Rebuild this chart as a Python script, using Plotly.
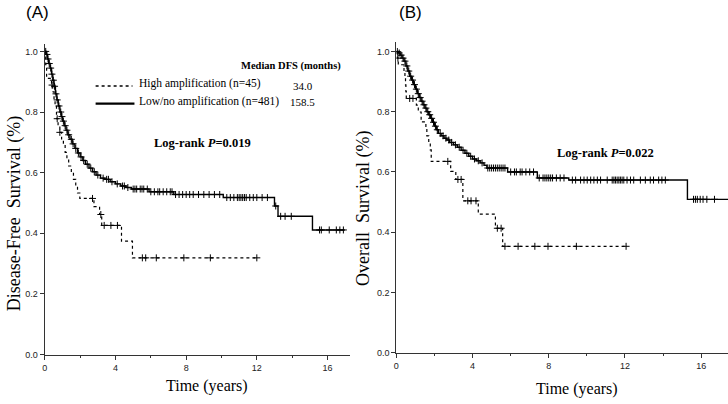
import plotly.graph_objects as go

# ---------------- Data ----------------
# Panel A: Disease-free survival (years, survival after event)
dfs_high_t = [0.05, 0.1, 0.38, 0.45, 0.52, 0.58, 0.66, 0.75, 0.85, 0.95, 1.05, 1.15, 1.25, 1.35,
              1.5, 1.62, 1.75, 1.85, 1.98, 2.78, 3.1, 3.22, 4.34, 4.96]
dfs_high_s = [0.956, 0.911, 0.889, 0.867, 0.844, 0.822, 0.778, 0.756, 0.733, 0.711, 0.689, 0.667,
              0.644, 0.622, 0.600, 0.578, 0.556, 0.533, 0.515, 0.488, 0.462, 0.426, 0.374, 0.319]
dfs_high_cens = [0.41, 0.7, 0.85, 2.70, 3.17, 3.36, 3.74, 4.11, 5.52, 5.71, 6.31, 7.87, 9.37, 12.0]

dfs_low_t = [0.08, 0.15, 0.22, 0.3, 0.38, 0.45, 0.52, 0.6, 0.68, 0.76, 0.85, 0.93, 1.0, 1.1, 1.2,
             1.3, 1.42, 1.55, 1.7, 1.85, 2.0, 2.15, 2.3, 2.5, 2.7, 2.9, 3.15, 3.4, 3.7, 4.0, 4.3,
             4.6, 4.9, 5.9, 7.3, 10.1, 13.0, 13.2, 15.15]
dfs_low_s = [0.99, 0.975, 0.96, 0.945, 0.925, 0.905, 0.885, 0.86, 0.84, 0.82, 0.80, 0.785, 0.77,
             0.755, 0.74, 0.725, 0.71, 0.695, 0.68, 0.665, 0.652, 0.64, 0.628, 0.615, 0.603, 0.592,
             0.582, 0.578, 0.570, 0.563, 0.556, 0.551, 0.546, 0.537, 0.528, 0.518, 0.49, 0.456, 0.411]
dfs_low_cens = [0.05, 0.12, 0.18, 0.25, 0.33, 0.4, 0.48, 0.55, 0.63, 0.7, 0.8, 0.9, 0.97, 1.05,
                1.15, 1.25, 1.35, 1.5, 1.6, 1.75, 1.9, 2.05, 2.2, 2.4, 2.6, 2.8, 3.0, 3.3, 3.5, 3.6,
                3.8, 4.1, 4.4, 4.5, 4.7, 5.0, 5.1, 5.2, 5.4, 5.5, 5.6, 5.8, 6.0, 6.2, 6.4, 6.5,
                6.7, 6.9, 7.1, 7.2, 7.4, 7.6, 7.8, 8.0, 8.2, 8.4, 8.7, 9.0, 9.3, 9.6, 9.9, 10.3,
                10.5, 10.7, 10.9, 11.0, 11.1, 11.2, 11.3, 11.4, 11.6, 11.8, 12.0, 12.3, 12.6, 13.07,
                13.35, 13.6, 13.95, 15.55, 15.65, 16.1, 16.5, 16.7, 16.9]

# Panel B: Overall survival
os_high_t = [0.05, 0.1, 0.4, 0.45, 0.48, 0.5, 0.52, 1.05, 1.15, 1.3, 1.55, 1.6, 1.7, 1.78, 1.83,
             2.85, 3.12, 3.49, 4.3, 5.2, 5.58]
os_high_s = [0.978, 0.956, 0.933, 0.911, 0.889, 0.867, 0.844, 0.822, 0.799, 0.766, 0.743, 0.720,
             0.697, 0.673, 0.635, 0.602, 0.575, 0.504, 0.460, 0.413, 0.353]
os_high_cens = [0.08, 0.7, 0.87, 2.70, 3.23, 3.40, 3.75, 3.92, 4.18, 5.30, 5.50, 5.70, 6.39,
                7.27, 7.96, 9.45, 12.06]

os_low_t = [0.1, 0.2, 0.3, 0.4, 0.5, 0.6, 0.7, 0.8, 0.9, 1.0, 1.1, 1.2, 1.3, 1.4, 1.5, 1.6, 1.7,
            1.8, 1.9, 2.0, 2.1, 2.2, 2.35, 2.5, 2.65, 2.8, 3.0, 3.2, 3.4, 3.6, 3.8, 4.0, 4.2, 4.4,
            4.6, 4.75, 5.84, 7.4, 9.05, 15.28]
os_low_s = [0.995, 0.988, 0.978, 0.968, 0.952, 0.935, 0.918, 0.905, 0.89, 0.875, 0.86, 0.847,
            0.835, 0.823, 0.812, 0.80, 0.79, 0.778, 0.765, 0.752, 0.74, 0.728, 0.72, 0.712, 0.706,
            0.698, 0.69, 0.682, 0.672, 0.662, 0.652, 0.643, 0.637, 0.63, 0.622, 0.613, 0.600,
            0.580, 0.573, 0.509]
os_low_cens = [0.05, 0.15, 0.25, 0.35, 0.45, 0.55, 0.65, 0.75, 0.85, 0.95, 1.05, 1.15, 1.25,
               1.35, 1.45, 1.55, 1.65, 1.75, 1.85, 1.95, 2.05, 2.15, 2.3, 2.45, 2.6, 2.75, 2.9,
               3.1, 3.3, 3.5, 3.7, 3.9, 4.1, 4.3, 4.5, 4.8, 4.9, 5.0, 5.1, 5.2, 5.3, 5.4, 5.5,
               5.6, 5.7, 6.0, 6.2, 6.3, 6.5, 6.6, 6.8, 7.0, 7.2, 7.5, 7.7, 7.8, 7.9, 8.0, 8.1,
               8.2, 8.4, 8.6, 8.8, 9.24, 9.41, 9.67, 9.85, 10.02, 10.2, 10.37, 10.55, 10.72,
               11.07, 11.33, 11.42, 11.5, 11.59, 11.68, 11.76, 11.85, 11.94, 12.11, 12.29,
               12.46, 12.81, 13.07, 13.33, 13.5, 13.77, 13.94, 14.12, 15.6, 15.7, 15.8, 15.95,
               16.1, 16.3, 16.7]

dfs_end = [12.0, 16.98]   # last follow-up time for (high, low)
os_end = [12.06, 17.5]

y_ticks = [0.0, 0.2, 0.4, 0.6, 0.8, 1.0]
y_tick_labels = ["0.0", "0.2", "0.4", "0.6", "0.8", "1.0"]
x_ticks = [0, 4, 8, 12, 16]

legend_labels = ["High amplification (n=45)", "Low/no amplification (n=481)"]
median_dfs = ["34.0", "158.5"]


# ---------------- Helpers ----------------
def step_xy(ts, ss, t_end):
    x = [0.0] + list(ts) + [t_end]
    y = [1.0] + list(ss) + [ss[-1]]
    return x, y


def surv_at(ts, ss, t):
    s = 1.0
    for ti, si in zip(ts, ss):
        if ti <= t:
            s = si
        else:
            break
    return s


W, H = 728, 404


def px(x):
    return x / W


def py(y):
    return 1 - y / H


fig = go.Figure()

serif = "Liberation Serif, Times New Roman, serif"
sans = "Liberation Sans, Arial, sans-serif"


def add_curve(ts, ss, cens, t_end, dash, xa, ya, lw):
    x, y = step_xy(ts, ss, t_end)
    fig.add_trace(go.Scatter(x=x, y=y, mode="lines", line=dict(color="black", width=lw, dash=dash,
                             shape="hv"), xaxis=xa, yaxis=ya, showlegend=False, hoverinfo="skip"))
    cy = [surv_at(ts, ss, c) for c in cens]
    fig.add_trace(go.Scatter(x=cens, y=cy, mode="markers",
                             marker=dict(symbol="cross-thin", size=5, line=dict(color="black", width=1)),
                             xaxis=xa, yaxis=ya, showlegend=False, hoverinfo="skip"))


add_curve(dfs_high_t, dfs_high_s, dfs_high_cens, dfs_end[0], "dot", "x", "y", 1.2)
add_curve(dfs_low_t, dfs_low_s, dfs_low_cens, dfs_end[1], "solid", "x", "y", 1.4)
add_curve(os_high_t, os_high_s, os_high_cens, os_end[0], "dot", "x2", "y2", 1.2)
add_curve(os_low_t, os_low_s, os_low_cens, os_end[1], "solid", "x2", "y2", 1.4)

axis_common = dict(showgrid=False, zeroline=False, showline=True, linecolor="#333", linewidth=1.3,
                   ticks="outside", ticklen=4, tickwidth=1.2, tickcolor="#333",
                   tickfont=dict(family=sans, size=9, color="#222"))

fig.update_layout(
    width=W, height=H, margin=dict(l=0, r=0, t=0, b=0),
    paper_bgcolor="white", plot_bgcolor="white",
    xaxis=dict(domain=[px(42), px(348)], range=[0, 17.25], tickvals=x_ticks, anchor="y",
               minor=dict(tickvals=[2, 6, 10, 14], ticklen=2, tickcolor="#333", ticks="outside"),
               **axis_common),
    yaxis=dict(domain=[py(359), py(45)], range=[0, 1.023], tickvals=y_ticks, ticktext=y_tick_labels,
               anchor="x", **axis_common),
    xaxis2=dict(domain=[px(395), 1.0], range=[0, 17.41], tickvals=x_ticks, anchor="y2",
                minor=dict(tickvals=[2, 6, 10, 14], ticklen=2, tickcolor="#333", ticks="outside"),
                **axis_common),
    yaxis2=dict(domain=[py(357), py(43)], range=[0, 1.03], tickvals=y_ticks, ticktext=y_tick_labels,
                anchor="x2", **axis_common),
)


def ann(x, y, text, size, family=serif, xanchor="center", angle=0):
    fig.add_annotation(x=px(x), y=py(y), xref="paper", yref="paper", text=text, showarrow=False,
                       xanchor=xanchor, yanchor="middle", textangle=angle, borderpad=0,
                       font=dict(family=family, size=size, color="black"))


ann(22, 13, "(A)", 17, family=sans, xanchor="left")
ann(397, 13, "(B)", 17, family=sans, xanchor="left")
ann(11, 216, "Disease-Free  Survival (%)", 18, angle=-90)
ann(362, 211, "Overall  Survival (%)", 18, angle=-90)
ann(205, 391, "Time (years)", 16)
ann(576, 394, "Time (years)", 16)

ann(289, 67, "<b>Median DFS (months)</b>", 10.5)
ann(198, 85, legend_labels[0], 11.5)
ann(207, 103, legend_labels[1], 11.5)
ann(301, 87, median_dfs[0], 11)
ann(301, 103, median_dfs[1], 11)
ann(200, 145, "<b>Log-rank <i>P</i>=0.019</b>", 12.5)
ann(605, 155, "<b>Log-rank <i>P</i>=0.022</b>", 12.5)

fig.add_shape(type="line", xref="paper", yref="paper", x0=px(93), x1=px(130), y0=py(87), y1=py(87),
              line=dict(color="black", width=1.5, dash="dot"))
fig.add_shape(type="line", xref="paper", yref="paper", x0=px(93), x1=px(132), y0=py(105), y1=py(105),
              line=dict(color="black", width=2.2))

fig.write_html("out.html", config={"displayModeBar": False},
               post_script="document.body.style.margin='0';")
